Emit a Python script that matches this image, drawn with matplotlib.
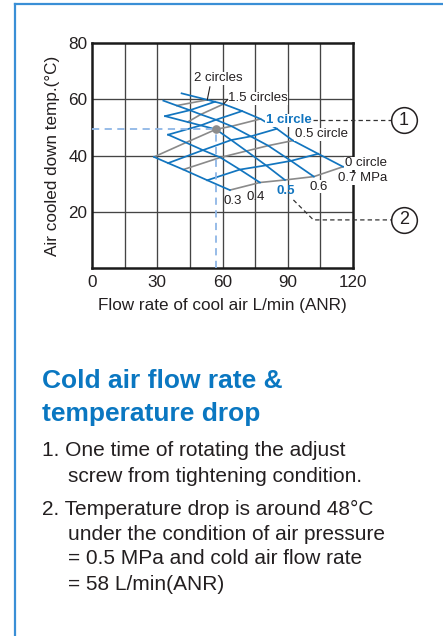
import numpy as np
import matplotlib
matplotlib.use("Agg")
import matplotlib.pyplot as plt
from matplotlib.lines import Line2D

plt.rcParams['font.family'] = ['Liberation Sans', 'DejaVu Sans']

# supply pressure (MPa) of each curve, screw turns of each cross line
pressures = [0.3, 0.4, 0.5, 0.6, 0.7]
turns = [0, 0.25, 0.5, 0.75, 1, 1.25, 1.5, 1.75, 2]

nan = np.nan
# cold air flow (L/min), rows = pressure, cols = turns
flow = np.array([
    [63.4, 53.0, 42.0, 35.0, 28.5, nan, nan, nan, nan],
    [77.2, 68.0, 59.0, 51.0, 43.2, 35.0, nan, nan, nan],
    [88.7, 80.0, 71.0, 64.0, 57.0, 50.0, 44.0, 33.6, nan],
    [102.0, 91.5, 81.0, 73.0, 64.2, 57.0, 50.0, 45.0, 39.0],
    [115.4, 104.0, 92.4, 85.0, 77.5, 69.0, 60.5, 56.5, 53.0],
])
# cooled down temperature (deg C)
temp = np.array([
    [27.7, 31.2, 35.0, 37.3, 39.5, nan, nan, nan, nan],
    [30.4, 35.0, 39.3, 41.9, 44.6, 47.4, nan, nan, nan],
    [31.3, 36.5, 41.6, 45.5, 49.3, 50.7, 51.9, 54.0, nan],
    [32.5, 38.1, 43.5, 46.8, 50.4, 52.7, 54.6, 56.1, 57.75],
    [36.0, 40.6, 45.3, 49.5, 53.0, 55.8, 58.3, 59.1, 59.8],
])
# loose upper ends of the 0.6 and 0.7 MPa curves
tail_flow = [nan, nan, nan, 32.8, 41.2]
tail_temp = [nan, nan, nan, 59.5, 62.1]

# example point: 0.5 MPa, 1 turn
point_flow = 57
point_temp = 49.3

callout_x = [143.5, 143.5]
callout_y = [52.6, 17.1]
callout_txt = ["1", "2"]

notes = [
    (41.7, 455.7, "1. One time of rotating the adjust"),
    (68.3, 481.7, "screw from tightening condition."),
    (41.7, 515.0, "2. Temperature drop is around 48°C"),
    (68.3, 540.0, "under the condition of air pressure"),
    (68.3, 564.5, "= 0.5 MPa and cold air flow rate"),
    (68.3, 590.0, "= 58 L/min(ANR)"),
]

BLUE = "#1275bf"
GRAY = "#8a8a8a"
DARK = "#231f20"
W, H = 443, 636

fig = plt.figure(figsize=(W / 100, H / 100), dpi=100)
ax = fig.add_axes([92 / W, 1 - 268 / H, 261 / W, 225 / H])
ax.set_xlim(0, 120)
ax.set_ylim(0, 80)

for x in range(15, 120, 15):
    ax.axvline(x, color="#444444", lw=0.95, zorder=1)
for y in (20, 40, 60):
    ax.axhline(y, color="#444444", lw=0.95, zorder=1)

# constant turn lines (gray at half turns, blue in between)
for j in range(len(turns)):
    xs = flow[:, j]
    ys = temp[:, j]
    ok = ~np.isnan(xs)
    if j % 2 == 0:
        ax.plot(xs[ok], ys[ok], color=GRAY, lw=1.2, zorder=2)
    else:
        ax.plot(xs[ok], ys[ok], color=BLUE, lw=1.25, zorder=3)

# constant pressure curves
for i in range(len(pressures)):
    xs = list(flow[i][~np.isnan(flow[i])])
    ys = list(temp[i][~np.isnan(temp[i])])
    if not np.isnan(tail_flow[i]):
        xs.append(tail_flow[i])
        ys.append(tail_temp[i])
    ax.plot(xs, ys, color=BLUE, lw=1.25, zorder=3)

# guide to the example point
ax.plot([0, point_flow], [point_temp, point_temp], color="#8fb6e6", lw=1.3,
        ls=(0, (4, 3)), zorder=4)
ax.plot([point_flow, point_flow], [0, point_temp], color="#8fb6e6", lw=1.3,
        ls=(0, (4, 3)), zorder=4)
ax.plot(point_flow, point_temp, "o", ms=5.2, color="#8c8c8c", zorder=5)

box = dict(facecolor="white", edgecolor="none", pad=0.4)
fs = 9.5
ax.text(46.7, 67.4, "2 circles", fontsize=fs, color=DARK, va="center", bbox=box, zorder=6)
ax.plot([54.2, 53.0], [64.4, 59.8], color=DARK, lw=0.8, zorder=6)
ax.text(62.6, 60.3, "1.5 circles", fontsize=fs, color=DARK, va="center", bbox=box, zorder=6)
ax.plot([60.5, 62.4], [58.3, 59.9], color=DARK, lw=0.8, zorder=6)
ax.text(80.0, 52.6, "1 circle", fontsize=fs, color=BLUE, weight="bold", va="center",
        bbox=box, zorder=6)
ax.text(93.3, 47.5, "0.5 circle", fontsize=fs, color=DARK, va="center", bbox=box, zorder=6)
ax.text(116.3, 37.2, "0 circle", fontsize=fs, color=DARK, va="center", bbox=box, zorder=6)
ax.text(113.2, 31.9, "0.7 MPa", fontsize=fs, color=DARK, va="center", bbox=box, zorder=6)
ax.text(99.9, 28.9, "0.6", fontsize=fs, color=DARK, va="center", bbox=box, zorder=6)
ax.text(84.9, 27.2, "0.5", fontsize=fs, color=BLUE, weight="bold", va="center", zorder=6)
ax.text(71.1, 25.4, "0.4", fontsize=fs, color=DARK, va="center", zorder=6)
ax.text(60.4, 23.8, "0.3", fontsize=fs, color=DARK, va="center", zorder=6)

# callouts 1 and 2
dash = (0, (3.5, 2.5))
ax.plot([101.5, 137.6], [callout_y[0], callout_y[0]], color="#333333", lw=0.9,
        ls=dash, clip_on=False, zorder=6)
ax.plot([92.6, 101.8, 137.6], [24.2, callout_y[1], callout_y[1]], color="#333333",
        lw=0.9, ls=dash, clip_on=False, zorder=6)
ax.plot(callout_x, callout_y, "o", ms=18.5, mfc="white", mec=DARK, mew=1.1,
        clip_on=False, zorder=7)
for cx, cy, t in zip(callout_x, callout_y, callout_txt):
    ax.text(cx, cy, t, fontsize=13, color=DARK, ha="center", va="center", zorder=8)

ax.set_xticks([0, 30, 60, 90, 120])
ax.set_yticks([20, 40, 60, 80])
ax.tick_params(length=0, labelsize=12.3, colors=DARK)
ax.tick_params(axis="x", pad=5)
ax.tick_params(axis="y", pad=3.5)
for s in ax.spines.values():
    s.set_linewidth(1.8)
    s.set_color("#1a1a1a")
ax.set_xlabel("Flow rate of cool air L/min (ANR)", fontsize=12.3, color=DARK, labelpad=6)
ax.set_ylabel("Air cooled down temp.(°C)", fontsize=12.3, color=DARK, labelpad=6)

# panel frame
fig.add_artist(Line2D([15 / W, 15 / W], [0, 1 - 4 / H], color="#3a8fd6", lw=1.6))
fig.add_artist(Line2D([15 / W, 1], [1 - 4 / H, 1 - 4 / H], color="#3a8fd6", lw=1.6))

fig.text(41.7 / W, 1 - 388.3 / H, "Cold air flow rate &", fontsize=19, weight="bold",
         color="#0a77c1", va="baseline")
fig.text(41.7 / W, 1 - 421.0 / H, "temperature drop", fontsize=19, weight="bold",
         color="#0a77c1", va="baseline")
for nx, ny, line in notes:
    fig.text(nx / W, 1 - ny / H, line, fontsize=15, color=DARK, va="baseline")

fig.savefig("out.png", dpi=100)
